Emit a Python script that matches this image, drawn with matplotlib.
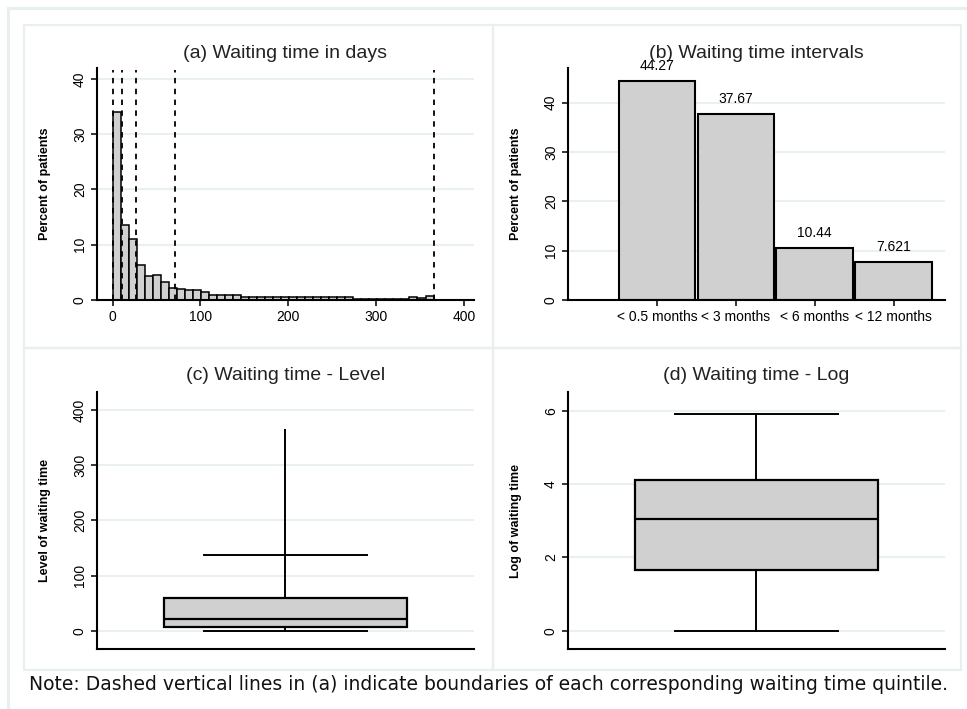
import numpy as np
import matplotlib.pyplot as plt
from matplotlib.patches import Rectangle

# --- data ---
hist_pct = [34.0, 13.6, 11.1, 6.4, 4.3, 4.6, 3.2, 2.1, 2.0, 1.8,
            1.8, 1.4, 0.95, 0.95, 0.95, 0.95, 0.6, 0.6, 0.5, 0.5,
            0.5, 0.5, 0.5, 0.5, 0.5, 0.5, 0.5, 0.5, 0.5, 0.5,
            0.2, 0.2, 0.2, 0.2, 0.2, 0.2, 0.2, 0.6, 0.3, 0.8]
hist_range = (0, 365)
quintile_bounds = [1, 11, 27, 71, 365]

interval_labels = ['< 0.5 months', '< 3 months', '< 6 months', '< 12 months']
interval_pct = [44.27, 37.67, 10.44, 7.621]
interval_text = ['44.27', '37.67', '10.44', '7.621']

level_box = dict(q1=7, med=22, q3=59, whislo=0, whishi=138)
level_max = 365
log_box = dict(q1=1.65, med=3.05, q3=4.1, whislo=0, whishi=5.9)

W, H = 967, 709
plt.rcParams['font.family'] = ['Liberation Sans', 'DejaVu Sans']
fig = plt.figure(figsize=(W / 100, H / 100), dpi=100)

border = '#e9eff1'
grid_c = '#e8f0f2'
fill = '#d0d0d0'
title_c = '#222222'


def rect_px(x0, y0, x1, y1, lw=1.6):
    r = Rectangle((x0 / W, 1 - y1 / H), (x1 - x0) / W, (y1 - y0) / H,
                  transform=fig.transFigure, fill=False, edgecolor=border,
                  linewidth=lw, zorder=0)
    fig.patches.append(r)


# outer frame (cut off at right / bottom) and the four panel frames
rect_px(8, 8, 990, 730, lw=2.2)
rect_px(24, 25, 493, 348)
rect_px(493, 25, 961, 348)
rect_px(24, 348, 493, 670)
rect_px(493, 348, 961, 670)


def make_ax(x0, y0, x1, y1):
    ax = fig.add_axes([x0 / W, 1 - y1 / H, (x1 - x0) / W, (y1 - y0) / H])
    ax.set_facecolor('none')
    for s in ['top', 'right']:
        ax.spines[s].set_visible(False)
    for s in ['left', 'bottom']:
        ax.spines[s].set_linewidth(1.5)
    ax.tick_params(direction='out', length=4, width=1.1, labelsize=10, pad=3)
    ax.tick_params(axis='y', labelrotation=90)
    ax.yaxis.grid(True, color=grid_c, linewidth=1.5)
    ax.set_axisbelow(True)
    return ax


def finish_y(ax, text, ticks):
    ax.set_yticks(ticks)
    for lab in ax.get_yticklabels():
        lab.set_va('center')
    ax.set_ylabel(text, fontsize=9, fontweight='bold',
                  family=['Liberation Sans Narrow', 'Liberation Sans'])
    ax.yaxis.set_label_coords(-0.122, 0.5)


# (a) histogram
ax = make_ax(96.7, 67.7, 474, 300)
edges = np.linspace(hist_range[0], hist_range[1], len(hist_pct) + 1)
ax.bar(edges[:-1], hist_pct, width=np.diff(edges), align='edge',
       color=fill, edgecolor='black', linewidth=1.1)
ax.vlines(quintile_bounds, 0, 41.5, colors='black', linestyles=(0, (3, 3)),
          linewidth=1.3)
ax.set_xlim(-18, 411)
ax.set_ylim(0, 42)
ax.set_xticks([0, 100, 200, 300, 400])
finish_y(ax, 'Percent of patients', [0, 10, 20, 30, 40])
ax.set_title('(a) Waiting time in days', fontsize=14, color=title_c, pad=7)

# (b) intervals
ax = make_ax(567.7, 68, 945, 300)
pos = np.arange(1, len(interval_pct) + 1)
ax.bar(pos, interval_pct, width=0.97, color=fill, edgecolor='black',
       linewidth=1.5)
for p, v, t in zip(pos, interval_pct, interval_text):
    ax.annotate(t, (p, v), xytext=(0, 6), textcoords='offset points',
                ha='center', va='bottom', fontsize=10)
ax.set_xlim(-0.13, 4.65)
ax.set_ylim(0, 47)
ax.set_xticks(pos)
ax.set_xticklabels(interval_labels, fontsize=10)
finish_y(ax, 'Percent of patients', [0, 10, 20, 30, 40])
ax.set_title('(b) Waiting time intervals', fontsize=14, color=title_c, pad=7)


def boxplot(ax, stats):
    ax.bxp([stats], positions=[0.5], widths=0.643, capwidths=0.431,
           showfliers=False, patch_artist=True,
           boxprops=dict(facecolor=fill, edgecolor='black', linewidth=1.6),
           medianprops=dict(color='black', linewidth=1.6),
           whiskerprops=dict(color='black', linewidth=1.4),
           capprops=dict(color='black', linewidth=1.4))
    ax.set_xlim(0, 1)
    ax.set_xticks([])


# (c) level box plot
ax = make_ax(96.7, 392.3, 474, 649)
ax.vlines(0.5, level_box['whishi'], level_max, colors='black', linewidth=1.4)
boxplot(ax, level_box)
ax.set_ylim(-33, 432)
finish_y(ax, 'Level of waiting time', [0, 100, 200, 300, 400])
ax.set_title('(c) Waiting time - Level', fontsize=14, color=title_c, pad=9)

# (d) log box plot
ax = make_ax(567.7, 392.3, 945, 649)
boxplot(ax, log_box)
ax.set_ylim(-0.5, 6.5)
finish_y(ax, 'Log of waiting time', [0, 2, 4, 6])
ax.set_title('(d) Waiting time - Log', fontsize=14, color=title_c, pad=9)

fig.text(29 / W, 1 - 685 / H,
         'Note: Dashed vertical lines in (a) indicate boundaries of each '
         'corresponding waiting time quintile.',
         fontsize=13.5, va='center', ha='left', color='#111111',
         family=['DejaVu Sans'])

fig.savefig('out.png', dpi=100)
